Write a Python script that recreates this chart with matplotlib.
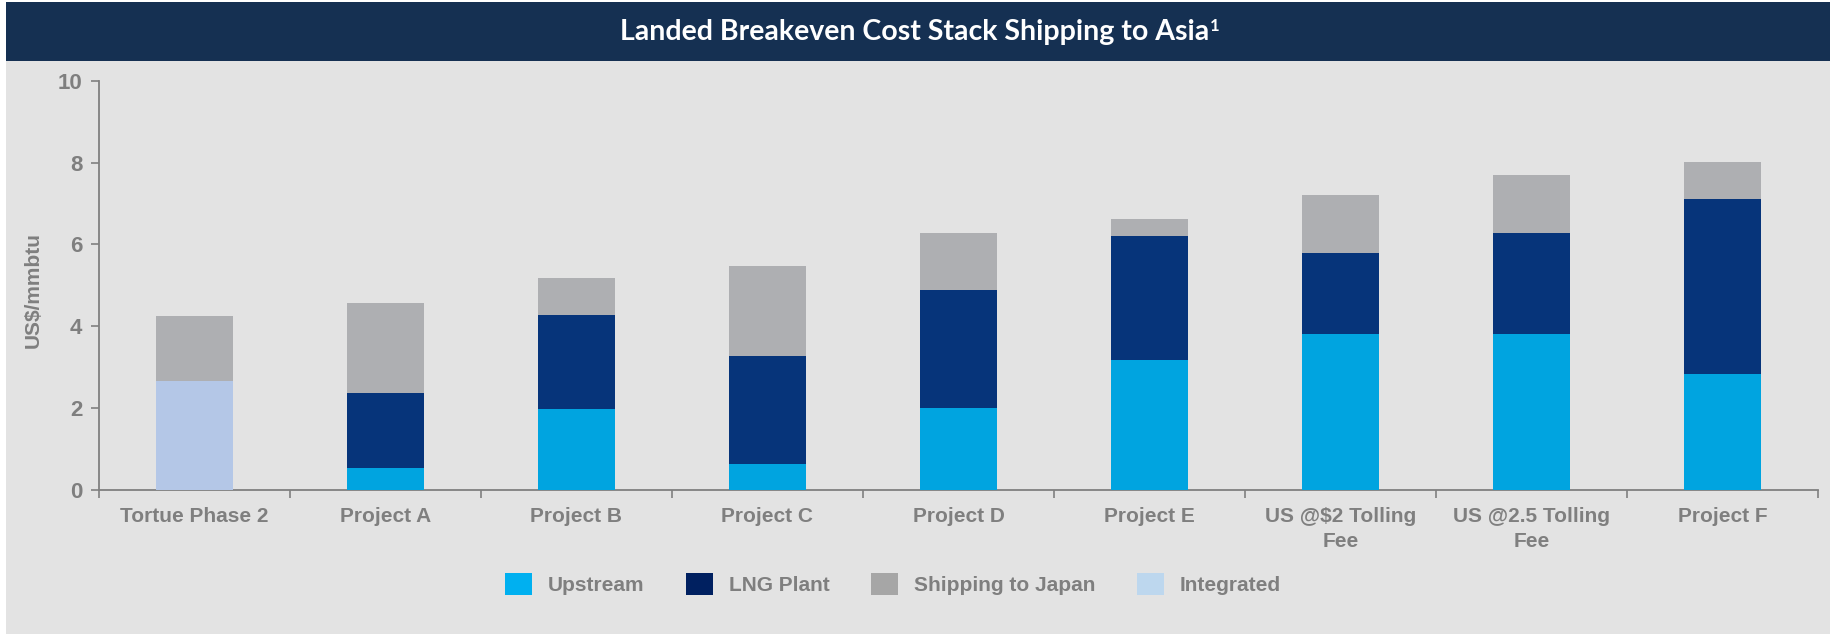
import matplotlib
matplotlib.use("Agg")
import matplotlib.pyplot as plt
from matplotlib.patches import Rectangle, Patch
import numpy as np

categories = ["Tortue Phase 2", "Project A", "Project B", "Project C", "Project D",
              "Project E", "US @$2 Tolling\nFee", "US @2.5 Tolling\nFee", "Project F"]
integrated = [2.66, 0, 0, 0, 0, 0, 0, 0, 0]
upstream = [0, 0.54, 1.98, 0.63, 2.00, 3.18, 3.80, 3.80, 2.83]
lng_plant = [0, 1.83, 2.30, 2.64, 2.88, 3.03, 1.99, 2.49, 4.29]
shipping = [1.59, 2.20, 0.90, 2.20, 1.41, 0.42, 1.41, 1.41, 0.89]
yticks = [0, 2, 4, 6, 8, 10]

title = "Landed Breakeven Cost Stack Shipping to Asia"
ylabel = "US$/mmbtu"

W, H = 1831, 634
fig = plt.figure(figsize=(W / 100, H / 100), dpi=100)
fig.patch.set_facecolor("white")

# background panel and title band
fig.patches.append(Rectangle((6 / W, 0), 1 - 6 / W, 1 - 61 / H, transform=fig.transFigure,
                             facecolor="#E3E3E3", edgecolor="none", zorder=-10))
fig.patches.append(Rectangle((6 / W, 1 - 61 / H), 1 - 6 / W, 59 / H, transform=fig.transFigure,
                             facecolor="#153052", edgecolor="none", zorder=-10))

t = fig.text((6 + W) / 2 / W - 4 / W, 1 - 32 / H, title, ha="center", va="center",
             color="white", fontsize=20.5, fontweight="bold", family="Lato")
fig.canvas.draw()
bb = t.get_window_extent()
fig.text(bb.x1 / W + 1 / W, (bb.y1 + 1) / H, "1", ha="left", va="top",
         color="white", fontsize=12, fontweight="bold", family="Lato")

ax = fig.add_axes([99 / W, 1 - 490 / H, (1818 - 99) / W, (490 - 80.7) / H])
ax.set_facecolor("none")

x = np.arange(len(categories))
bw = 0.40
c_up, c_lng, c_ship, c_int = "#00A4E0", "#06347A", "#AEAFB2", "#B4C7E7"
bottom = np.zeros(len(categories))
for vals, col in [(integrated, c_int), (upstream, c_up), (lng_plant, c_lng), (shipping, c_ship)]:
    v = np.array(vals)
    ax.bar(x, v, bw, bottom=bottom, color=col, edgecolor="none", zorder=3)
    bottom += v

ax.set_xlim(-0.5, len(categories) - 0.5)
ax.set_ylim(0, 10)
ax.set_yticks(yticks)
ax.set_yticklabels([str(v) for v in yticks])
ax.set_xticks(x)
ax.set_xticklabels(categories)
ax.set_xticks(np.arange(len(categories) + 1) - 0.5, minor=True)
ax.tick_params(axis="x", which="major", length=0, pad=12)
ax.tick_params(axis="x", which="minor", length=6, width=1.2, color="#808080", direction="out")
ax.tick_params(axis="y", length=6, width=1.2, color="#808080", pad=6)

gray = "#7F7F7F"
for lbl in ax.get_xticklabels():
    lbl.set_fontsize(15)
    lbl.set_fontweight("bold")
    lbl.set_color(gray)
    lbl.set_family("Liberation Sans")
    lbl.set_linespacing(1.4)
for lbl in ax.get_yticklabels():
    lbl.set_fontsize(16)
    lbl.set_fontweight("bold")
    lbl.set_color(gray)
    lbl.set_family("Liberation Sans")

for s in ["top", "right"]:
    ax.spines[s].set_visible(False)
for s in ["left", "bottom"]:
    ax.spines[s].set_color("#808080")
    ax.spines[s].set_linewidth(1.3)

fig.text(33 / W, 1 - 290 / H, ylabel, rotation=90, ha="center", va="center",
         fontsize=15, fontweight="bold", color=gray, family="Liberation Sans")

handles = [Patch(facecolor="#00B0F0", edgecolor="none", label="Upstream"),
           Patch(facecolor="#002060", edgecolor="none", label="LNG Plant"),
           Patch(facecolor="#A6A6A6", edgecolor="none", label="Shipping to Japan"),
           Patch(facecolor="#BDD7EE", edgecolor="none", label="Integrated")]
leg = fig.legend(handles=handles, loc="center", bbox_to_anchor=(893 / W, 1 - 584 / H),
                 ncol=4, frameon=False, handlelength=1.3, handleheight=1.25,
                 handletextpad=0.75, columnspacing=2.0,
                 prop={"family": "Liberation Sans", "weight": "bold", "size": 15})
for txt in leg.get_texts():
    txt.set_color(gray)

fig.savefig("out.png", dpi=100)
